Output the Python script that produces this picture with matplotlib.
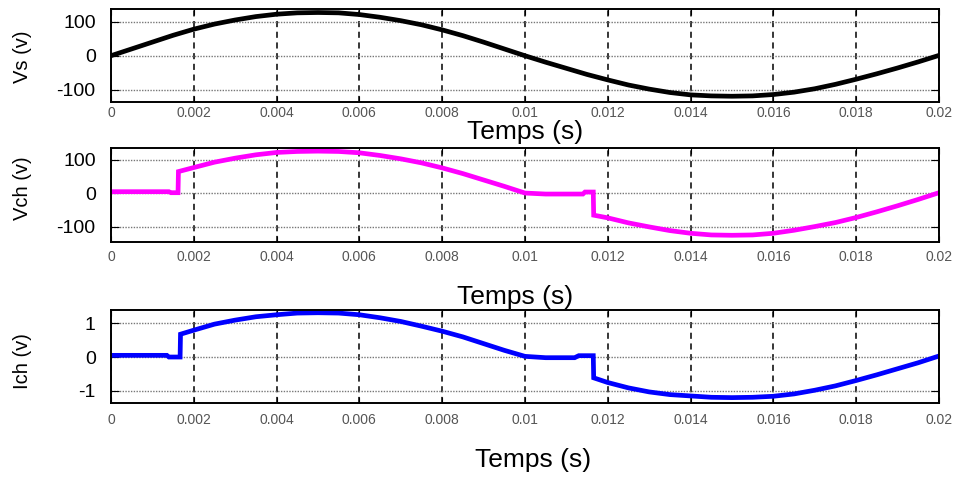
import numpy as np
import matplotlib
matplotlib.use("Agg")
import matplotlib.pyplot as plt

plt.rcParams['font.family'] = ['Liberation Sans', 'DejaVu Sans']

# time in ms
vs_t = [0, 0.5, 1, 1.5, 2, 2.5, 3, 3.5, 4, 4.5, 5, 5.5, 6, 6.5, 7, 7.5, 8, 8.5, 9, 9.5,
        10, 10.5, 11, 11.5, 12, 12.5, 13, 13.5, 14, 14.5, 15, 15.5, 16, 16.5, 17, 17.5,
        18, 18.5, 19, 19.5, 20]
vs_v = [0, 20, 40, 60, 78, 93, 105, 115, 122, 126, 127, 126, 121, 113, 103, 91, 76, 59, 40, 20,
        0, -19, -37, -55, -71, -86, -98, -108, -115, -118, -119, -118, -114, -107, -97, -84,
        -69, -53, -36, -18, 1]

vch_t = [0, 1.4, 1.45, 1.62, 1.63, 2.0, 2.5, 3, 3.5, 4, 4.5, 5, 5.5, 6, 6.5, 7, 7.5, 8, 8.5,
         9, 9.5, 10, 10.5, 11.4, 11.45, 11.65, 11.66, 12, 12.5, 13, 13.5, 14, 14.5, 15,
         15.5, 16, 16.5, 17, 17.5, 18, 18.5, 19, 19.5, 20]
vch_v = [4, 4, 1, 1, 64, 76, 92, 104, 114, 121, 124, 125, 124, 120, 112, 102, 90, 75, 58,
         39, 20, 0, -3, -3, 3, 3, -66, -74, -89, -101, -112, -120, -125, -126,
         -125, -120, -111, -100, -88, -73, -56, -38, -19, 1]

ich_t = [0, 1.35, 1.4, 1.67, 1.68, 2, 2.5, 3, 3.5, 4, 4.5, 5, 5.5, 6, 6.5, 7, 7.5, 8, 8.5,
         9, 9.5, 10, 10.5, 11.2, 11.3, 11.65, 11.66, 12, 12.5, 13, 13.5, 14, 14.5, 15,
         15.5, 16, 16.5, 17, 17.5, 18, 18.5, 19, 19.5, 20]
ich_v = [0.05, 0.05, 0, 0, 0.68, 0.8, 0.98, 1.1, 1.2, 1.26, 1.31, 1.32, 1.31, 1.26, 1.17,
         1.06, 0.92, 0.77, 0.6, 0.4, 0.2, 0.02, -0.02, -0.02, 0.04, 0.04, -0.62, -0.76,
         -0.92, -1.04, -1.12, -1.16, -1.2, -1.21, -1.2, -1.17, -1.1, -0.99, -0.86, -0.7,
         -0.53, -0.35, -0.17, 0.03]

x_ticks = [0, 0.002, 0.004, 0.006, 0.008, 0.01, 0.012, 0.014, 0.016, 0.018, 0.02]
x_labels = ['0', '0.002', '0.004', '0.006', '0.008', '0.01', '0.012', '0.014', '0.016', '0.018', '0.02']

fig = plt.figure(figsize=(9.59, 4.79), dpi=100)

panels = [
    # rect, t, v, colour, yticks, ytick labels, ylim, xtick pad
    ([0.1157, 0.787, 0.8634, 0.194], vs_t, vs_v, 'black',
     [-100, 0, 100], ['-100', '0', '100'], (-136, 137), 3),
    ([0.1157, 0.4948, 0.8634, 0.196], vch_t, vch_v, '#ff00ff',
     [-100, 0, 100], ['-100', '0', '100'], (-146, 134), 6),
    ([0.1157, 0.1587, 0.8634, 0.194], ich_t, ich_v, '#0000ff',
     [-1, 0, 1], ['-1', '0', '1'], (-1.37, 1.40), 7),
]

for rect, t, v, col, yt, ytl, ylim, pad in panels:
    ax = fig.add_axes(rect)
    ax.plot(np.array(t) / 1000.0, v, color=col, lw=3.4, solid_joinstyle='miter')
    ax.set_xlim(0, 0.02)
    ax.set_ylim(*ylim)
    ax.set_xticks(x_ticks)
    ax.set_xticklabels(x_labels, fontsize=10, color='#555555')
    ax.set_yticks(yt)
    ax.set_yticklabels(ytl, fontsize=14)
    ax.tick_params(axis='x', direction='in', top=True, length=4, pad=pad)
    ax.tick_params(axis='y', direction='in', right=True, length=6, pad=11)
    ax.xaxis.grid(True, linestyle=(0, (4, 3)), color='black', lw=1.1)
    ax.yaxis.grid(True, linestyle=(0, (1, 1)), color='#777777', lw=1.0)
    for s in ax.spines.values():
        s.set_linewidth(1.4)
    ax.set_axisbelow(True)

fig.text(22 / 959, 1 - 57 / 479, 'Vs (v)', rotation=90, ha='center', va='center', fontsize=14.5)
fig.text(22 / 959, 1 - 188 / 479, 'Vch (v)', rotation=90, ha='center', va='center', fontsize=14.5)
fig.text(22 / 959, 1 - 361 / 479, 'Ich (v)', rotation=90, ha='center', va='center', fontsize=14.5)

fig.text(525 / 959, 1 - 132 / 479, 'Temps (s)', ha='center', va='center', fontsize=19)
fig.text(515 / 959, 1 - 297 / 479, 'Temps (s)', ha='center', va='center', fontsize=19)
fig.text(533 / 959, 1 - 460 / 479, 'Temps (s)', ha='center', va='center', fontsize=19)

fig.savefig('out.png', dpi=100)
